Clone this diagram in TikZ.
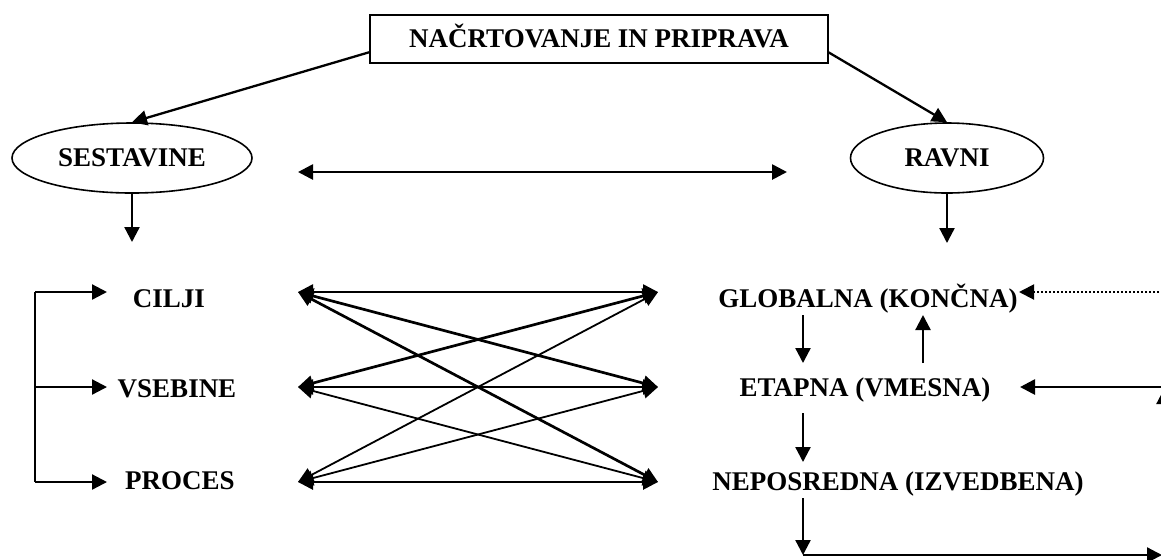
\documentclass[tikz,border=0pt]{standalone}
\usepackage{fontspec}
\setmainfont{Liberation Serif}
\usetikzlibrary{arrows.meta,shapes.geometric}
\begin{document}
\begin{tikzpicture}[x=0.5pt,y=-0.5pt,
  every node/.style={font=\fontsize{13.5}{16}\selectfont\bfseries, inner sep=0pt,
    text height=8.9pt, text depth=0pt},
  tip/.style={-{Triangle[length=7.5pt,width=7.5pt]}},
  twoway/.style={{Triangle[length=7.5pt,width=7.5pt]}-{Triangle[length=7.5pt,width=7.5pt]}},
  thick conn/.style={line width=1.35pt},
  conn/.style={line width=1.15pt},
  thin conn/.style={line width=0.9pt},
  oval/.style={draw, ellipse, line width=0.8pt, minimum height=35pt},
  titlebox/.style={draw, line width=1pt, minimum width=229pt, minimum height=24pt},
]
\useasboundingbox (0,0) rectangle (1161,559);
\clip (0,0) rectangle (1161,559);

% title and the two main branches
\node[titlebox] (plan) at (599,39) {NAČRTOVANJE IN PRIPRAVA};
\node[oval, minimum width=120pt] (sest) at (132,158) {SESTAVINE};
\node[oval, minimum width=96.5pt] (ravni) at (947,158) {RAVNI};

% components
\node (cilji)   at (169,299) {CILJI};
\node (vsebine) at (177,389) {VSEBINE};
\node (proces)  at (180,481) {PROCES};

% levels
\node (glob)  at (868,299) {GLOBALNA (KONČNA)};
\node (etap)  at (865,388) {ETAPNA (VMESNA)};
\node (nepos) at (898,482) {NEPOSREDNA (IZVEDBENA)};

% helper points
\coordinate (pl) at (370,52);
\coordinate (pr) at (828,52);
\coordinate (h1) at (298,172);
\coordinate (h2) at (787,172);
\coordinate (sd) at (132,242);
\coordinate (rd) at (947,243);
\coordinate (bt) at (35,292);
\coordinate (bm) at (35,387);
\coordinate (bb) at (35,482);
\coordinate (a1) at (107,292);
\coordinate (a2) at (107,387);
\coordinate (a3) at (107,482);
\coordinate (L1) at (298,292);
\coordinate (L2) at (298,387);
\coordinate (L3) at (298,482);
\coordinate (R1) at (658,292);
\coordinate (R2) at (658,387);
\coordinate (R3) at (658,482);
\coordinate (g1) at (803,315);
\coordinate (e1) at (803,363);
\coordinate (e2) at (923,363);
\coordinate (g2) at (923,315);
\coordinate (e3) at (803,413);
\coordinate (n1) at (803,462);
\coordinate (n2) at (803,498);
\coordinate (corner) at (803,555);
\coordinate (far) at (1162,555);
\coordinate (dotend) at (1175,292);
\coordinate (gtip) at (1019,292);
\coordinate (etapend) at (1175,387);
\coordinate (etip) at (1020,387);
\coordinate (upfoot) at (1164,556);
\coordinate (uptip) at (1164,389);

% title to branches
\draw[conn, tip] (pl) -- (sest.north);
\draw[conn, tip] (pr) -- (ravni.north);
\draw[thick conn, twoway] (h1) -- (h2);
\draw[conn, tip] (sest.south) -- (sd);
\draw[conn, tip] (ravni.south) -- (rd);

% bracket on the left
\draw[conn] (bt) -- (bb);
\draw[conn, tip] (bt) -- (a1);
\draw[conn, tip] (bm) -- (a2);
\draw[conn, tip] (bb) -- (a3);

% links between components and levels
\draw[thick conn, twoway] (L1) -- (R1);
\draw[thick conn, twoway] (L1) -- (R2);
\draw[thick conn, twoway] (L1) -- (R3);
\draw[thick conn, twoway] (L2) -- (R1);
\draw[conn, twoway] (L2) -- (R2);
\draw[thin conn, twoway] (L2) -- (R3);
\draw[thin conn, twoway] (L3) -- (R1);
\draw[thin conn, twoway] (L3) -- (R2);
\draw[thick conn, twoway] (L3) -- (R3);

% arrows among the levels
\draw[conn, tip] (g1) -- (e1);
\draw[conn, tip] (e2) -- (g2);
\draw[conn, tip] (e3) -- (n1);
\draw[conn, tip] (n2) -- (corner);
\draw[conn, tip] (corner) -- (far);
\draw[line width=1pt, dash pattern=on 1pt off 1pt, tip] (dotend) -- (gtip);
\draw[thick conn, tip] (etapend) -- (etip);
\draw[conn, tip] (upfoot) -- (uptip);
\end{tikzpicture}
\end{document}
